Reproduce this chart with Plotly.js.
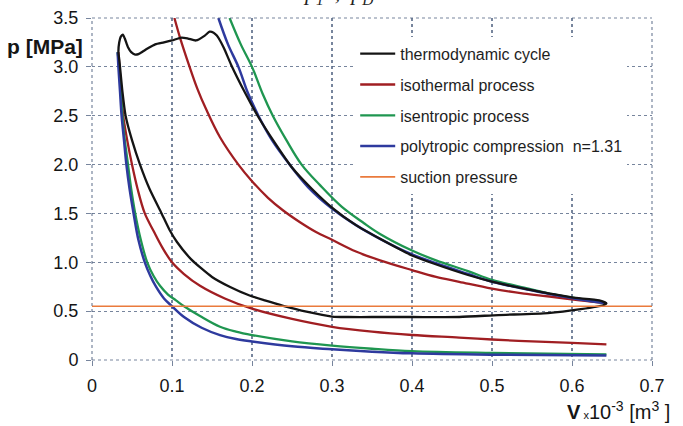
<!DOCTYPE html>
<html>
<head>
<meta charset="utf-8">
<script src="https://cdn.plot.ly/plotly-3.0.1.min.js"></script>
<style>
  html, body { margin: 0; padding: 0; background: #fff; }
  #chart { width: 683px; height: 426px; }
</style>
</head>
<body>
<div id="chart"></div>
<script>
// Compressor p-V diagram: measured cycle against ideal compression/expansion curves.
// Volume V in 10^-3 m^3, pressure p in MPa.

// Measured thermodynamic cycle (compression -> discharge -> re-expansion -> suction)
const cycleV = [0.643, 0.634, 0.6, 0.572, 0.54, 0.501, 0.47, 0.426, 0.4, 0.36, 0.33, 0.3, 0.275, 0.25, 0.228,
  0.207, 0.191, 0.174, 0.165, 0.16, 0.156, 0.152, 0.147, 0.141, 0.13, 0.12, 0.112, 0.1, 0.09, 0.079, 0.07,
  0.064, 0.058, 0.054, 0.049, 0.045, 0.041, 0.0385, 0.036, 0.034, 0.033,
  0.034, 0.035, 0.038, 0.042, 0.05, 0.06, 0.072, 0.087, 0.097, 0.106, 0.124, 0.15, 0.172, 0.197, 0.216,
  0.239, 0.268, 0.3, 0.32, 0.35, 0.4, 0.459, 0.508, 0.57, 0.611, 0.639, 0.643];
const cycleP = [0.58, 0.61, 0.64, 0.68, 0.73, 0.80, 0.87, 0.99, 1.07, 1.24, 1.38, 1.56, 1.75, 1.97, 2.23,
  2.5, 2.74, 3.02, 3.19, 3.27, 3.32, 3.35, 3.36, 3.32, 3.27, 3.29, 3.30, 3.27, 3.25, 3.23, 3.19,
  3.16, 3.13, 3.125, 3.15, 3.2, 3.29, 3.33, 3.31, 3.25, 3.15,
  3.08, 3.0, 2.75, 2.5, 2.25, 2.0, 1.75, 1.5, 1.33, 1.21, 1.03, 0.85, 0.75, 0.66, 0.61,
  0.555, 0.495, 0.445, 0.44, 0.44, 0.44, 0.44, 0.46, 0.48, 0.52, 0.56, 0.58];

// Isothermal process (compression branch and expansion branch)
const isoCompV = [0.103, 0.11, 0.122, 0.132, 0.143, 0.16, 0.183, 0.2, 0.22, 0.239, 0.26, 0.28, 0.3, 0.33,
  0.36, 0.4, 0.43, 0.459, 0.5, 0.54, 0.572, 0.61, 0.643];
const isoCompP = [3.5, 3.3, 3.0, 2.77, 2.56, 2.28, 2.0, 1.83, 1.66, 1.53, 1.41, 1.31, 1.23, 1.11,
  1.02, 0.92, 0.85, 0.80, 0.73, 0.68, 0.65, 0.61, 0.58];
const isoExpV = [0.033, 0.036, 0.039, 0.044, 0.05, 0.057, 0.066, 0.077, 0.088, 0.1, 0.115, 0.135, 0.166,
  0.2, 0.25, 0.3, 0.35, 0.4, 0.459, 0.5, 0.55, 0.6, 0.643];
const isoExpP = [3.15, 2.8, 2.5, 2.25, 2.0, 1.75, 1.5, 1.32, 1.15, 1.0, 0.88, 0.76, 0.63,
  0.525, 0.42, 0.34, 0.29, 0.256, 0.23, 0.21, 0.19, 0.175, 0.16];

// Isentropic process
const isenCompV = [0.172, 0.186, 0.2, 0.213, 0.226, 0.243, 0.262, 0.285, 0.312, 0.34, 0.36, 0.4, 0.43,
  0.47, 0.5, 0.54, 0.572, 0.61, 0.643];
const isenCompP = [3.5, 3.23, 3.0, 2.73, 2.5, 2.25, 2.0, 1.79, 1.57, 1.40, 1.29, 1.12, 1.02,
  0.91, 0.82, 0.74, 0.68, 0.625, 0.58];
const isenExpV = [0.032, 0.034, 0.036, 0.038, 0.041, 0.045, 0.049, 0.054, 0.061, 0.069, 0.077, 0.085,
  0.095, 0.105, 0.116, 0.135, 0.16, 0.18, 0.2, 0.25, 0.3, 0.35, 0.4, 0.5, 0.643];
const isenExpP = [3.15, 3.0, 2.75, 2.5, 2.25, 2.0, 1.75, 1.5, 1.23, 1.0, 0.86, 0.76,
  0.67, 0.61, 0.545, 0.45, 0.34, 0.29, 0.255, 0.19, 0.147, 0.115, 0.09, 0.072, 0.058];

// Polytropic compression, n = 1.31
const polyCompV = [0.158, 0.17, 0.183, 0.195, 0.208, 0.225, 0.247, 0.27, 0.3, 0.33, 0.36, 0.4, 0.43,
  0.47, 0.5, 0.54, 0.572, 0.61, 0.643];
const polyCompP = [3.5, 3.23, 3.0, 2.73, 2.5, 2.25, 2.0, 1.77, 1.55, 1.38, 1.24, 1.08, 0.99,
  0.88, 0.80, 0.73, 0.675, 0.62, 0.58];
const polyExpV = [0.032, 0.033, 0.035, 0.037, 0.04, 0.043, 0.047, 0.052, 0.058, 0.066, 0.073, 0.08,
  0.09, 0.1, 0.115, 0.137, 0.16, 0.18, 0.2, 0.25, 0.3, 0.35, 0.4, 0.5, 0.643];
const polyExpP = [3.15, 3.0, 2.75, 2.5, 2.25, 2.0, 1.75, 1.5, 1.23, 1.0, 0.86, 0.75,
  0.63, 0.55, 0.44, 0.33, 0.255, 0.215, 0.19, 0.14, 0.11, 0.085, 0.068, 0.054, 0.045];

// Suction pressure level
const suctionV = [0, 0.7];
const suctionP = [0.55, 0.55];

// Series names and axis ticks
const seriesNames = ['thermodynamic cycle', 'isothermal process', 'isentropic process',
  'polytropic compression  n=1.31', 'suction pressure'];
const xTickVals = [0, 0.1, 0.2, 0.3, 0.4, 0.5, 0.6, 0.7];
const xTickText = ['0', '0.1', '0.2', '0.3', '0.4', '0.5', '0.6', '0.7'];
const yTickVals = [0, 0.5, 1.0, 1.5, 2.0, 2.5, 3.0, 3.5];
const yTickText = ['0', '0.5', '1.0', '1.5', '2.0', '2.5', '3.0', '3.5'];

const colors = {
  cycle: '#141414',
  iso: '#a01e22',
  isen: '#1f9650',
  poly: '#2e3a9e',
  suction: '#ea7a3c'
};

function curve(x, y, color, width, name, group, rank, show, smooth) {
  return {
    x: x, y: y, type: 'scatter', mode: 'lines',
    line: { color: color, width: width, shape: 'spline', smoothing: smooth },
    name: name, legendgroup: group, legendrank: rank, showlegend: show,
    hoverinfo: 'skip'
  };
}

const traces = [
  curve(isoCompV, isoCompP, colors.iso, 2.3, seriesNames[1], 'iso', 2, true, 1),
  curve(isoExpV, isoExpP, colors.iso, 2.3, seriesNames[1], 'iso', 2, false, 1),
  curve(isenCompV, isenCompP, colors.isen, 2.3, seriesNames[2], 'isen', 3, true, 1),
  curve(isenExpV, isenExpP, colors.isen, 2.3, seriesNames[2], 'isen', 3, false, 1),
  curve(polyCompV, polyCompP, colors.poly, 2.5, seriesNames[3], 'poly', 4, true, 1),
  curve(polyExpV, polyExpP, colors.poly, 2.5, seriesNames[3], 'poly', 4, false, 1),
  curve(cycleV, cycleP, colors.cycle, 2.3, seriesNames[0], 'cycle', 1, true, 0.6),
  {
    x: suctionV, y: suctionP, type: 'scatter', mode: 'lines',
    line: { color: colors.suction, width: 1.6 },
    name: seriesNames[4], legendgroup: 'suction', legendrank: 5, hoverinfo: 'skip'
  }
];

const gridColor = 'rgba(85,102,132,0.8)';
const tickFont = { family: 'Arial, "Liberation Sans", sans-serif', size: 18, color: '#151515' };
const gridLine = { color: gridColor, width: 1.2, dash: 'dot' };

const layout = {
  width: 683, height: 426,
  margin: { l: 92, r: 31, t: 18, b: 66 },
  paper_bgcolor: '#ffffff', plot_bgcolor: '#ffffff',
  showlegend: true,
  legend: {
    x: 0.47, y: 0.945, xanchor: 'left', yanchor: 'top',
    bgcolor: '#ffffff', borderwidth: 0,
    font: { family: 'Arial, "Liberation Sans", sans-serif', size: 16, color: '#1e1e1e' },
    itemwidth: 35, tracegroupgap: 7, traceorder: 'grouped'
  },
  xaxis: {
    range: [0, 0.7], tickvals: xTickVals, ticktext: xTickText,
    showgrid: true, gridcolor: gridColor, griddash: 'dot', gridwidth: 1.2,
    zeroline: false, showline: false,
    ticks: 'outside', ticklen: 5, tickcolor: gridColor, ticklabelstandoff: 4,
    tickfont: tickFont, fixedrange: true
  },
  yaxis: {
    range: [0, 3.5], tickvals: yTickVals, ticktext: yTickText,
    showgrid: true, gridcolor: gridColor, griddash: 'dot', gridwidth: 1.2,
    zeroline: false, showline: false,
    ticks: 'outside', ticklen: 5, tickcolor: gridColor, ticklabelstandoff: 4,
    tickfont: tickFont, fixedrange: true
  },
  shapes: [
    // frame drawn in the same style as the grid
    { type: 'line', xref: 'paper', yref: 'paper', x0: 0, x1: 1, y0: 1, y1: 1, line: gridLine },
    { type: 'line', xref: 'paper', yref: 'paper', x0: 1, x1: 1, y0: 0, y1: 1, line: gridLine },
    { type: 'line', xref: 'paper', yref: 'paper', x0: 0, x1: 0, y0: 0, y1: 1, line: gridLine },
    { type: 'line', xref: 'paper', yref: 'paper', x0: 0, x1: 1, y0: 0, y1: 0, line: gridLine }
  ],
  annotations: [
    {
      text: '<b>p [MPa]</b>', xref: 'paper', yref: 'paper',
      x: -0.012, y: 0.918, xanchor: 'right', yanchor: 'middle', showarrow: false,
      font: { family: 'Arial, "Liberation Sans", sans-serif', size: 21, color: '#151515' }
    },
    {
      text: '<b>V</b><span style="font-size:11px"> x</span>10<sup>-3</sup> [m<sup>3</sup> ]',
      xref: 'paper', yref: 'paper', x: 1.036, y: -0.149, xanchor: 'right', yanchor: 'middle',
      showarrow: false,
      font: { family: 'Arial, "Liberation Sans", sans-serif', size: 20, color: '#151515' }
    },
    {
      text: '<i>p<sub>1</sub>  ,  p<sub>D</sub></i>', xref: 'paper', yref: 'paper',
      x: 0.44, y: 1.024, xanchor: 'center', yanchor: 'bottom', showarrow: false,
      font: { family: '"Liberation Serif", "DejaVu Serif", serif', size: 22, color: '#222' }
    }
  ]
};

Plotly.newPlot('chart', traces, layout, { displayModeBar: false, staticPlot: true });
</script>
</body>
</html>
